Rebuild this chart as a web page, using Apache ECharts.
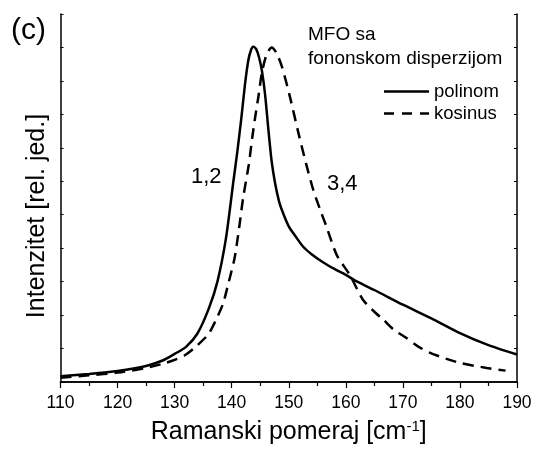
<!DOCTYPE html>
<html>
<head>
<meta charset="utf-8">
<script src="https://cdn.jsdelivr.net/npm/echarts@6/dist/echarts.min.js"></script>
<style>html,body{margin:0;padding:0;background:#fff}#c{width:542px;height:450px}</style>
</head>
<body>
<div id="c"></div>
<script>
const xTicks = [110, 120, 130, 140, 150, 160, 170, 180, 190];
const polinomX = [110,115,120,125,128,130,132,134,136,137.5,139,140.3,141,141.7,142.3,142.9,143.4,143.8,144.3,144.8,145.3,145.85,146.4,147,147.6,148.3,149,150,151,152.5,154,156,158,160,162,165,170,175,180,185,190];
const polinomY = [0.17,0.24,0.33,0.48,0.65,0.84,1.05,1.45,2.2,3.0,4.3,6.0,6.9,7.9,8.85,9.6,9.93,10.02,9.95,9.7,9.3,8.6,7.6,6.6,5.95,5.4,5.05,4.65,4.4,4.05,3.82,3.58,3.38,3.2,3.0,2.75,2.31,1.9,1.46,1.1,0.82];
const kosinusX = [110,115,120,125,128,130,132,134,136,137.5,138.5,139.5,140.5,141.3,142,143,143.6,144.1,144.7,145.3,146.1,147,147.8,148.8,150.2,151.7,153,154.3,155.5,156.6,158.4,160.7,163,165,166.6,168.5,170.7,172.5,174.8,177.5,180,184.7,188];
const kosinusY = [0.13,0.2,0.28,0.42,0.55,0.66,0.82,1.1,1.45,1.95,2.35,3.0,3.7,4.6,5.5,6.5,7.3,7.9,8.55,9.25,9.78,10.0,9.85,9.43,8.53,7.44,6.55,5.74,5.15,4.65,3.8,3.2,2.46,2.1,1.86,1.55,1.31,1.08,0.87,0.7,0.57,0.42,0.34];

const zip = (xs, ys) => xs.map((x, i) => [x, ys[i]]);
const FONT = 'Liberation Sans, Arial, sans-serif';
const chart = echarts.init(document.getElementById('c'), null, {renderer: 'canvas'});
chart.setOption({
  animation: false,
  backgroundColor: '#fff',
  grid: {left: 60.5, right: 25, top: 14, bottom: 67, containLabel: false},
  xAxis: [{
    type: 'value', min: 110, max: 190, interval: 10,
    name: 'Ramanski pomeraj [cm{sup|-1}]',
    nameLocation: 'middle', nameGap: 37,
    nameTextStyle: {fontFamily: FONT, fontSize: 25, color: '#000',
      rich: {sup: {fontSize: 15, verticalAlign: 'top', padding: [0,0,12,0], fontFamily: FONT, color: '#000'}}},
    axisLine: {lineStyle: {color: '#000', width: 1.5}},
    axisTick: {length: 6, lineStyle: {color: '#000', width: 1.2}},
    minorTick: {show: true, splitNumber: 2, length: 4, lineStyle: {color: '#000', width: 1.2}},
    axisLabel: {fontFamily: FONT, fontSize: 17.5, color: '#000', margin: 12},
    splitLine: {show: false}
  }, {
    type: 'value', min: 110, max: 190, interval: 10, position: 'top',
    axisLine: {lineStyle: {color: '#000', width: 1.5}},
    axisTick: {inside: true, length: 2, lineStyle: {color: '#000'}},
    minorTick: {show: true, splitNumber: 2, length: 2, lineStyle: {color: '#000'}},
    axisLabel: {show: false}, splitLine: {show: false}
  }],
  yAxis: [{
    type: 'value', min: 0, max: 11, interval: 1,
    name: 'Intenzitet [rel. jed.]',
    nameLocation: 'middle', nameGap: 11,
    nameTextStyle: {fontFamily: FONT, fontSize: 25, color: '#000', padding: [0, 36, 0, 0]},
    axisLine: {lineStyle: {color: '#000', width: 1.5}},
    axisTick: {inside: true, length: 3, lineStyle: {color: '#000'}},
    axisLabel: {show: false}, splitLine: {show: false}
  }, {
    type: 'value', min: 0, max: 11, interval: 1, position: 'right',
    axisLine: {lineStyle: {color: '#000', width: 1.5}},
    axisTick: {inside: true, length: 3, lineStyle: {color: '#000'}},
    axisLabel: {show: false}, splitLine: {show: false}
  }],
  legend: {
    show: true, orient: 'vertical', left: 379, top: 77, itemGap: 3,
    itemWidth: 45, itemHeight: 14,
    textStyle: {fontFamily: FONT, fontSize: 18.5, color: '#000'},
    data: [{name: 'polinom', icon: 'path://M0,0H45V2.5H0Z'}, {name: 'kosinus', icon: 'path://M0,0H10V2.5H0ZM18,0H28V2.5H18ZM36,0H45V2.5H36Z'}]
  },
  graphic: [
    {type: 'text', left: 11, top: 16, style: {text: '(c)', font: '30px ' + FONT, fill: '#000'}},
    {type: 'text', left: 308, top: 25, style: {text: 'MFO sa', font: '19px ' + FONT, fill: '#000'}},
    {type: 'text', left: 308, top: 49, style: {text: 'fononskom disperzijom', font: '19px ' + FONT, fill: '#000'}},
    {type: 'text', left: 191, top: 166, style: {text: '1,2', font: '22px ' + FONT, fill: '#000'}},
    {type: 'text', left: 327, top: 173, style: {text: '3,4', font: '22px ' + FONT, fill: '#000'}}
  ],
  series: [{
    name: 'polinom', type: 'line', data: zip(polinomX, polinomY),
    smooth: 0.25, showSymbol: false, symbol: 'none',
    lineStyle: {color: '#000', width: 2.5}, itemStyle: {color: '#000'}
  }, {
    name: 'kosinus', type: 'line', data: zip(kosinusX, kosinusY),
    smooth: 0.25, showSymbol: false, symbol: 'none',
    lineStyle: {color: '#000', width: 2.5, type: [11, 7]}, itemStyle: {color: '#000'}
  }]
});
</script>
</body>
</html>
